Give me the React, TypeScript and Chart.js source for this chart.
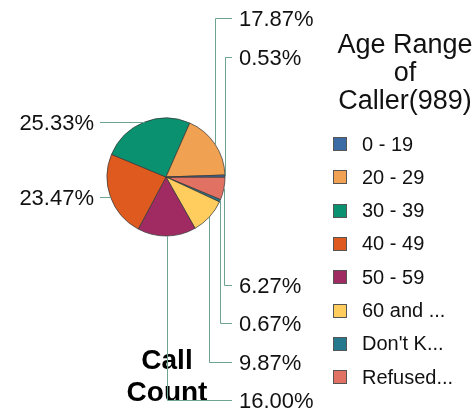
import React, { useEffect, useRef } from "react";
import { Chart, registerables } from "chart.js";

Chart.register(...registerables);

// ---- data ----
const categories = ["0 - 19", "20 - 29", "30 - 39", "40 - 49", "50 - 59", "60 and ...", "Don't K...", "Refused..."];
const callCounts = [4, 134, 190, 176, 120, 74, 5, 47];
const sliceColors = ["#3c6aa4", "#f0a252", "#0a9270", "#df5a1f", "#a02b63", "#fecd5e", "#26788c", "#e07163"];
const legendTitle = ["Age Range", "of", "Caller(989)"];
const chartTitle = ["Call", "Count"];

const FONT = "'Liberation Sans', Arial, sans-serif";
const LINE_COLOR = "#6ca392";

const labelPlugin = {
  id: "leaderLabels",
  afterDraw(chart: any) {
    const ctx = chart.ctx;
    const meta = chart.getDatasetMeta(0);
    const data: number[] = chart.data.datasets[0].data;
    const total = data.reduce((a, b) => a + b, 0);

    type P = { px: number; py: number; text: string; right: boolean; ly: number };
    const pts: P[] = [];
    meta.data.forEach((arc: any, i: number) => {
      const { x, y, startAngle, endAngle, outerRadius } = arc.getProps(["x", "y", "startAngle", "endAngle", "outerRadius"], true);
      const mid = (startAngle + endAngle) / 2;
      const px = x + outerRadius * Math.cos(mid);
      const py = y + outerRadius * Math.sin(mid);
      const text = ((data[i] / total) * 100).toFixed(2) + "%";
      pts.push({ px, py, text, right: Math.cos(mid) > 0, ly: py });
    });
    const cy = meta.data[0].y;
    const step = 38.5;
    const topY = 18;
    const bottomY = 400;
    const rightTop = pts.filter((p) => p.right && p.py < cy - 0.5).sort((a, b) => a.py - b.py);
    rightTop.forEach((p, i) => (p.ly = topY + i * step));
    const rightBottom = pts.filter((p) => p.right && p.py >= cy - 0.5).sort((a, b) => a.py - b.py);
    rightBottom.forEach((p, i) => (p.ly = bottomY - (rightBottom.length - 1 - i) * step));

    // "Call Count" title
    ctx.save();
    ctx.fillStyle = "#000";
    ctx.font = `bold 28px ${FONT}`;
    ctx.textAlign = "center";
    ctx.textBaseline = "alphabetic";
    ctx.fillText(chartTitle[0], 167, 369);
    ctx.fillText(chartTitle[1], 167, 401);
    ctx.restore();

    ctx.save();
    ctx.strokeStyle = LINE_COLOR;
    ctx.lineWidth = 1;
    ctx.font = `22px ${FONT}`;
    ctx.fillStyle = "#111";
    ctx.textBaseline = "middle";
    pts.forEach((p) => {
      const sx = Math.round(p.px) + 0.5;
      const ly = Math.round(p.ly) + 0.5;
      ctx.beginPath();
      ctx.moveTo(sx, p.py);
      ctx.lineTo(sx, ly);
      if (p.right) {
        ctx.lineTo(232, ly);
        ctx.stroke();
        ctx.textAlign = "left";
        ctx.fillText(p.text, 239, ly + 1);
      } else {
        ctx.lineTo(100, ly);
        ctx.stroke();
        ctx.textAlign = "right";
        ctx.fillText(p.text, 94, ly + 1);
      }
    });
    ctx.restore();

    // legend
    ctx.save();
    ctx.fillStyle = "#111";
    ctx.font = `27px ${FONT}`;
    ctx.textAlign = "center";
    ctx.textBaseline = "alphabetic";
    legendTitle.forEach((t, i) => ctx.fillText(t, 405, 53 + i * 28));
    ctx.font = `20px ${FONT}`;
    ctx.textAlign = "left";
    ctx.textBaseline = "middle";
    categories.forEach((c, i) => {
      const yc = 144 + i * 33.3;
      ctx.fillStyle = sliceColors[i];
      ctx.fillRect(333, Math.round(yc - 7), 14, 14);
      ctx.strokeStyle = "#555";
      ctx.lineWidth = 1;
      ctx.strokeRect(333.5, Math.round(yc - 7) + 0.5, 13, 13);
      ctx.fillStyle = "#111";
      ctx.fillText(c, 362, yc + 1);
    });
    ctx.restore();
  },
};

export default function App() {
  const ref = useRef<HTMLCanvasElement | null>(null);
  useEffect(() => {
    if (!ref.current) return;
    // slices run counter-clockwise in the reference: feed them reversed into a clockwise pie
    const labels = [...categories].reverse();
    const values = [...callCounts].reverse();
    const colors = [...sliceColors].reverse();
    const chart = new Chart(ref.current, {
      type: "pie",
      data: {
        labels,
        datasets: [
          {
            data: values,
            backgroundColor: colors,
            borderColor: "#3a3a3a",
            borderWidth: 0.75,
            rotation: 90,
          } as any,
        ],
      },
      options: {
        animation: false,
        responsive: false,
        radius: 59,
        layout: { padding: { left: 106, top: 117, right: 248, bottom: 175 } },
        plugins: {
          legend: { display: false },
          tooltip: { enabled: false },
          title: { display: false },
        },
      } as any,
      plugins: [labelPlugin],
    });
    return () => chart.destroy();
  }, []);
  return (
    <div style={{ position: "absolute", left: 0, top: 0, width: 474, height: 412, background: "#fff" }}>
      <canvas ref={ref} width={474} height={412} />
    </div>
  );
}
